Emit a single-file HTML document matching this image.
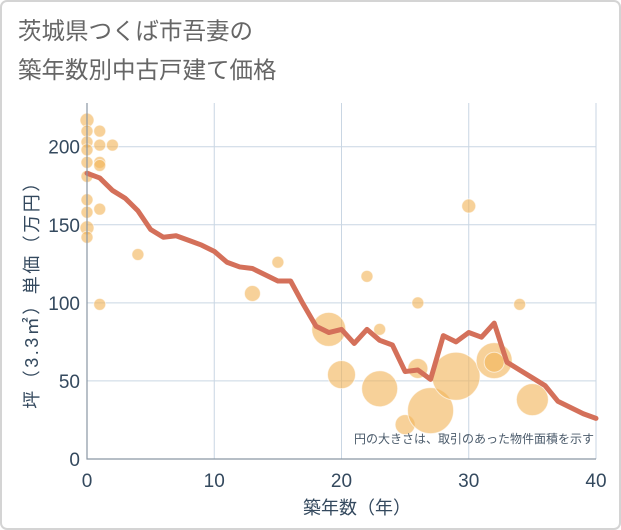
<!DOCTYPE html>
<html><head><meta charset="utf-8"><style>
body{margin:0;background:#fff;}
svg{display:block;font-family:"Liberation Sans","Noto Sans CJK JP",sans-serif;}
</style></head><body>
<svg id="chart" width="621" height="530">
<rect x="1" y="1" width="619" height="528" rx="6" fill="#fff" stroke="#d4d4d4" stroke-width="2"/>
<text x="18" y="39" font-size="23.5" fill="#666">茨城県つくば市吾妻の</text>
<text x="18" y="78" font-size="23.5" fill="#666">築年数別中古戸建て価格</text>
<g id="grid"></g>
<g id="bubbles"></g>
<g id="line"></g>
<g id="axes"></g>
<text x="594" y="443" font-size="12" fill="#4a5a6a" text-anchor="end">円の大きさは、取引のあった物件面積を示す</text>
<text x="357" y="514" font-size="18" fill="#34495e" text-anchor="middle">築年数（年）</text>
<text transform="translate(38,290) rotate(-90)" font-size="18" letter-spacing="2.5" fill="#34495e" text-anchor="middle">坪（3.3㎡）単価（万円）</text>
</svg>
<script>
const xTicks=[0,10,20,30,40];
const yTicks=[0,50,100,150,200];
const lineYears=[0,1,2,3,4,5,6,7,8,9,10,11,12,13,14,15,16,17,18,19,20,21,22,23,24,25,26,27,28,29,30,31,32,33,34,35,36,37,38,39,40];
const lineValues=[183,180,172,167,159,147,142,143,140,137,133,126,123,122,118,114,114,99,85,81,83,74,83,76,73,56,57,51,79,75,81,78,87,62,57,52,47,37,33,29,26];
const bubbleYears=[0,0,0,0,0,0,0,0,0,0,1,1,1,1,1,1,2,4,13,15,19,20,22,23,23,25,26,26,27,29,30,32,32,34,35];
const bubbleValues=[217,210,203,198,190,181,166,158,148,142,210,201,190,188,160,99,201,131,106,126,83,54,117,45,83,22,100,58,31,53,162,63,62,99,38];
const bubbleSizes=[7,6,6,6,6,6,6,6,7,6,6,6,6,6,6,6,6,6,8,6,17,14,6,18,6,10,6,10,23,24,7,18,10,6,16];
const NS='http://www.w3.org/2000/svg';
const L=87,R=596,T=103,B=459,xMax=40,yMax=228;
const xs=v=>L+(v/xMax)*(R-L);
const ys=v=>B-(v/yMax)*(B-T);
function mk(tag,attrs,parent){const e=document.createElementNS(NS,tag);for(const k in attrs)e.setAttribute(k,attrs[k]);document.getElementById(parent).appendChild(e);return e;}
xTicks.forEach(t=>{
  const g=mk('line',{x1:xs(t),x2:xs(t),y1:T,y2:B,stroke:'#c9d6e3','stroke-width':1},'grid');
  
  
  const tx=mk('text',{x:xs(t),y:B+28,'font-size':19,fill:'#34495e','text-anchor':'middle'},'axes');
  tx.textContent=t;
  
  
});
yTicks.forEach(t=>{
  const g=mk('line',{x1:L,x2:R,y1:ys(t),y2:ys(t),stroke:'#c9d6e3','stroke-width':1},'grid');
  
  
  const tx=mk('text',{x:L-7,y:ys(t)+7,'font-size':19,fill:'#34495e','text-anchor':'end'},'axes');
  tx.textContent=t;
  
  
});
const ax=mk('path',{d:`M${L},${T}V${B}H${R}`,fill:'none',stroke:'#8a96a3','stroke-width':1.2},'axes');


bubbleYears.forEach((yr,i)=>{
  const c=mk('circle',{cx:xs(yr),cy:ys(bubbleValues[i]),r:bubbleSizes[i],fill:'rgba(242,180,90,0.62)',stroke:'rgba(255,255,255,0.6)','stroke-width':1},'bubbles');
  
  
});
const d=lineYears.map((yr,i)=>(i?'L':'M')+xs(yr)+','+ys(lineValues[i])).join('');
const p=mk('path',{d:d,fill:'none',stroke:'#d4705a','stroke-width':5,'stroke-linejoin':'round','stroke-linecap':'round'},'line');


</script>
</body></html>
